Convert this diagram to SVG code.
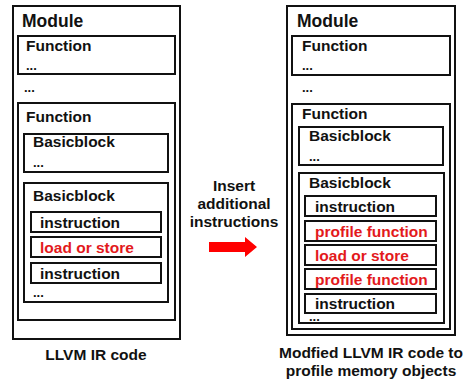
<svg xmlns="http://www.w3.org/2000/svg" width="468" height="381" viewBox="0 0 468 381">
  <style>
    .box { fill: #ffffff; stroke: #111111; stroke-width: 2; }
    .t { font-family: "Liberation Sans", Arial, sans-serif; font-weight: bold; font-size: 15.5px; fill: #111111; }
    .mod { font-size: 17.5px; }
    .dots { font-size: 13px; }
    .red { fill: #e3191c; }
    .cap { text-anchor: middle; }
  </style>
  <rect width="468" height="381" fill="#ffffff"/>

  <!-- Original IR module -->
  <g id="left-module">
    <rect class="box" x="13" y="6" width="167" height="333"/>
    <text class="t mod" x="22" y="27">Module</text>
    <g id="left-function-1">
      <rect class="box" x="18" y="36" width="157" height="38"/>
      <text class="t" x="26" y="51">Function</text>
      <text class="t dots" x="26" y="70">...</text>
    </g>
    <text class="t dots" x="24" y="92">...</text>
    <g id="left-function-2">
      <rect class="box" x="18" y="103" width="157" height="217"/>
      <text class="t" x="26" y="122">Function</text>
      <g id="left-bb-1">
        <rect class="box" x="24" y="134" width="144" height="38"/>
        <text class="t" x="33" y="147">Basicblock</text>
        <text class="t dots" x="33" y="167">...</text>
      </g>
      <g id="left-bb-2">
        <rect class="box" x="24" y="183" width="144" height="119"/>
        <text class="t" x="33" y="201">Basicblock</text>
        <g id="left-instr-1">
          <rect class="box" x="31" y="212" width="130" height="20"/>
          <text class="t" x="40" y="227.5">instruction</text>
        </g>
        <g id="left-ldst">
          <rect class="box" x="31" y="237" width="130" height="20"/>
          <text class="t red" x="40" y="252.5">load or store</text>
        </g>
        <g id="left-instr-2">
          <rect class="box" x="31" y="263" width="130" height="20"/>
          <text class="t" x="40" y="278.5">instruction</text>
        </g>
        <text class="t dots" x="33" y="297">...</text>
      </g>
    </g>
  </g>
  <text id="left-caption" class="t cap" x="96" y="360">LLVM IR code</text>

  <!-- Transformation arrow -->
  <g id="insert-step">
    <text class="t cap" x="234" y="191">Insert</text>
    <text class="t cap" x="234" y="209">additional</text>
    <text class="t cap" x="234" y="227">instructions</text>
  </g>
  <g id="connectors">
    <polygon fill="#ff0000" points="209,242 245,242 245,237 257,247 245,257 245,252 209,252"/>
  </g>

  <!-- Instrumented IR module -->
  <g id="right-module">
    <rect class="box" x="287" y="6" width="168" height="329"/>
    <text class="t mod" x="297" y="27">Module</text>
    <g id="right-function-1">
      <rect class="box" x="292" y="36" width="158" height="39"/>
      <text class="t" x="302" y="51">Function</text>
      <text class="t dots" x="302" y="70">...</text>
    </g>
    <text class="t dots" x="302" y="92">...</text>
    <g id="right-function-2">
      <rect class="box" x="292" y="104" width="158" height="225"/>
      <text class="t" x="302" y="119">Function</text>
      <g id="right-bb-1">
        <rect class="box" x="299" y="127" width="144" height="38"/>
        <text class="t" x="309" y="141">Basicblock</text>
        <text class="t dots" x="309" y="161">...</text>
      </g>
      <g id="right-bb-2">
        <rect class="box" x="299" y="173" width="145" height="150"/>
        <text class="t" x="309" y="188">Basicblock</text>
        <g id="right-instr-1">
          <rect class="box" x="305" y="196" width="131" height="20"/>
          <text class="t" x="315" y="211.5">instruction</text>
        </g>
        <g id="right-profile-1">
          <rect class="box" x="305" y="221" width="131" height="20"/>
          <text class="t red" x="315" y="236.5">profile function</text>
        </g>
        <g id="right-ldst">
          <rect class="box" x="305" y="245" width="131" height="20"/>
          <text class="t red" x="315" y="260.5">load or store</text>
        </g>
        <g id="right-profile-2">
          <rect class="box" x="305" y="269" width="131" height="20"/>
          <text class="t red" x="315" y="284.5">profile function</text>
        </g>
        <g id="right-instr-2">
          <rect class="box" x="305" y="294" width="131" height="19"/>
          <text class="t" x="315" y="309">instruction</text>
        </g>
        <text class="t dots" x="309" y="321">...</text>
      </g>
    </g>
  </g>
  <text class="t cap" x="371" y="358">Modfied LLVM IR code to</text>
  <text class="t cap" x="371" y="376">profile memory objects</text>
</svg>
